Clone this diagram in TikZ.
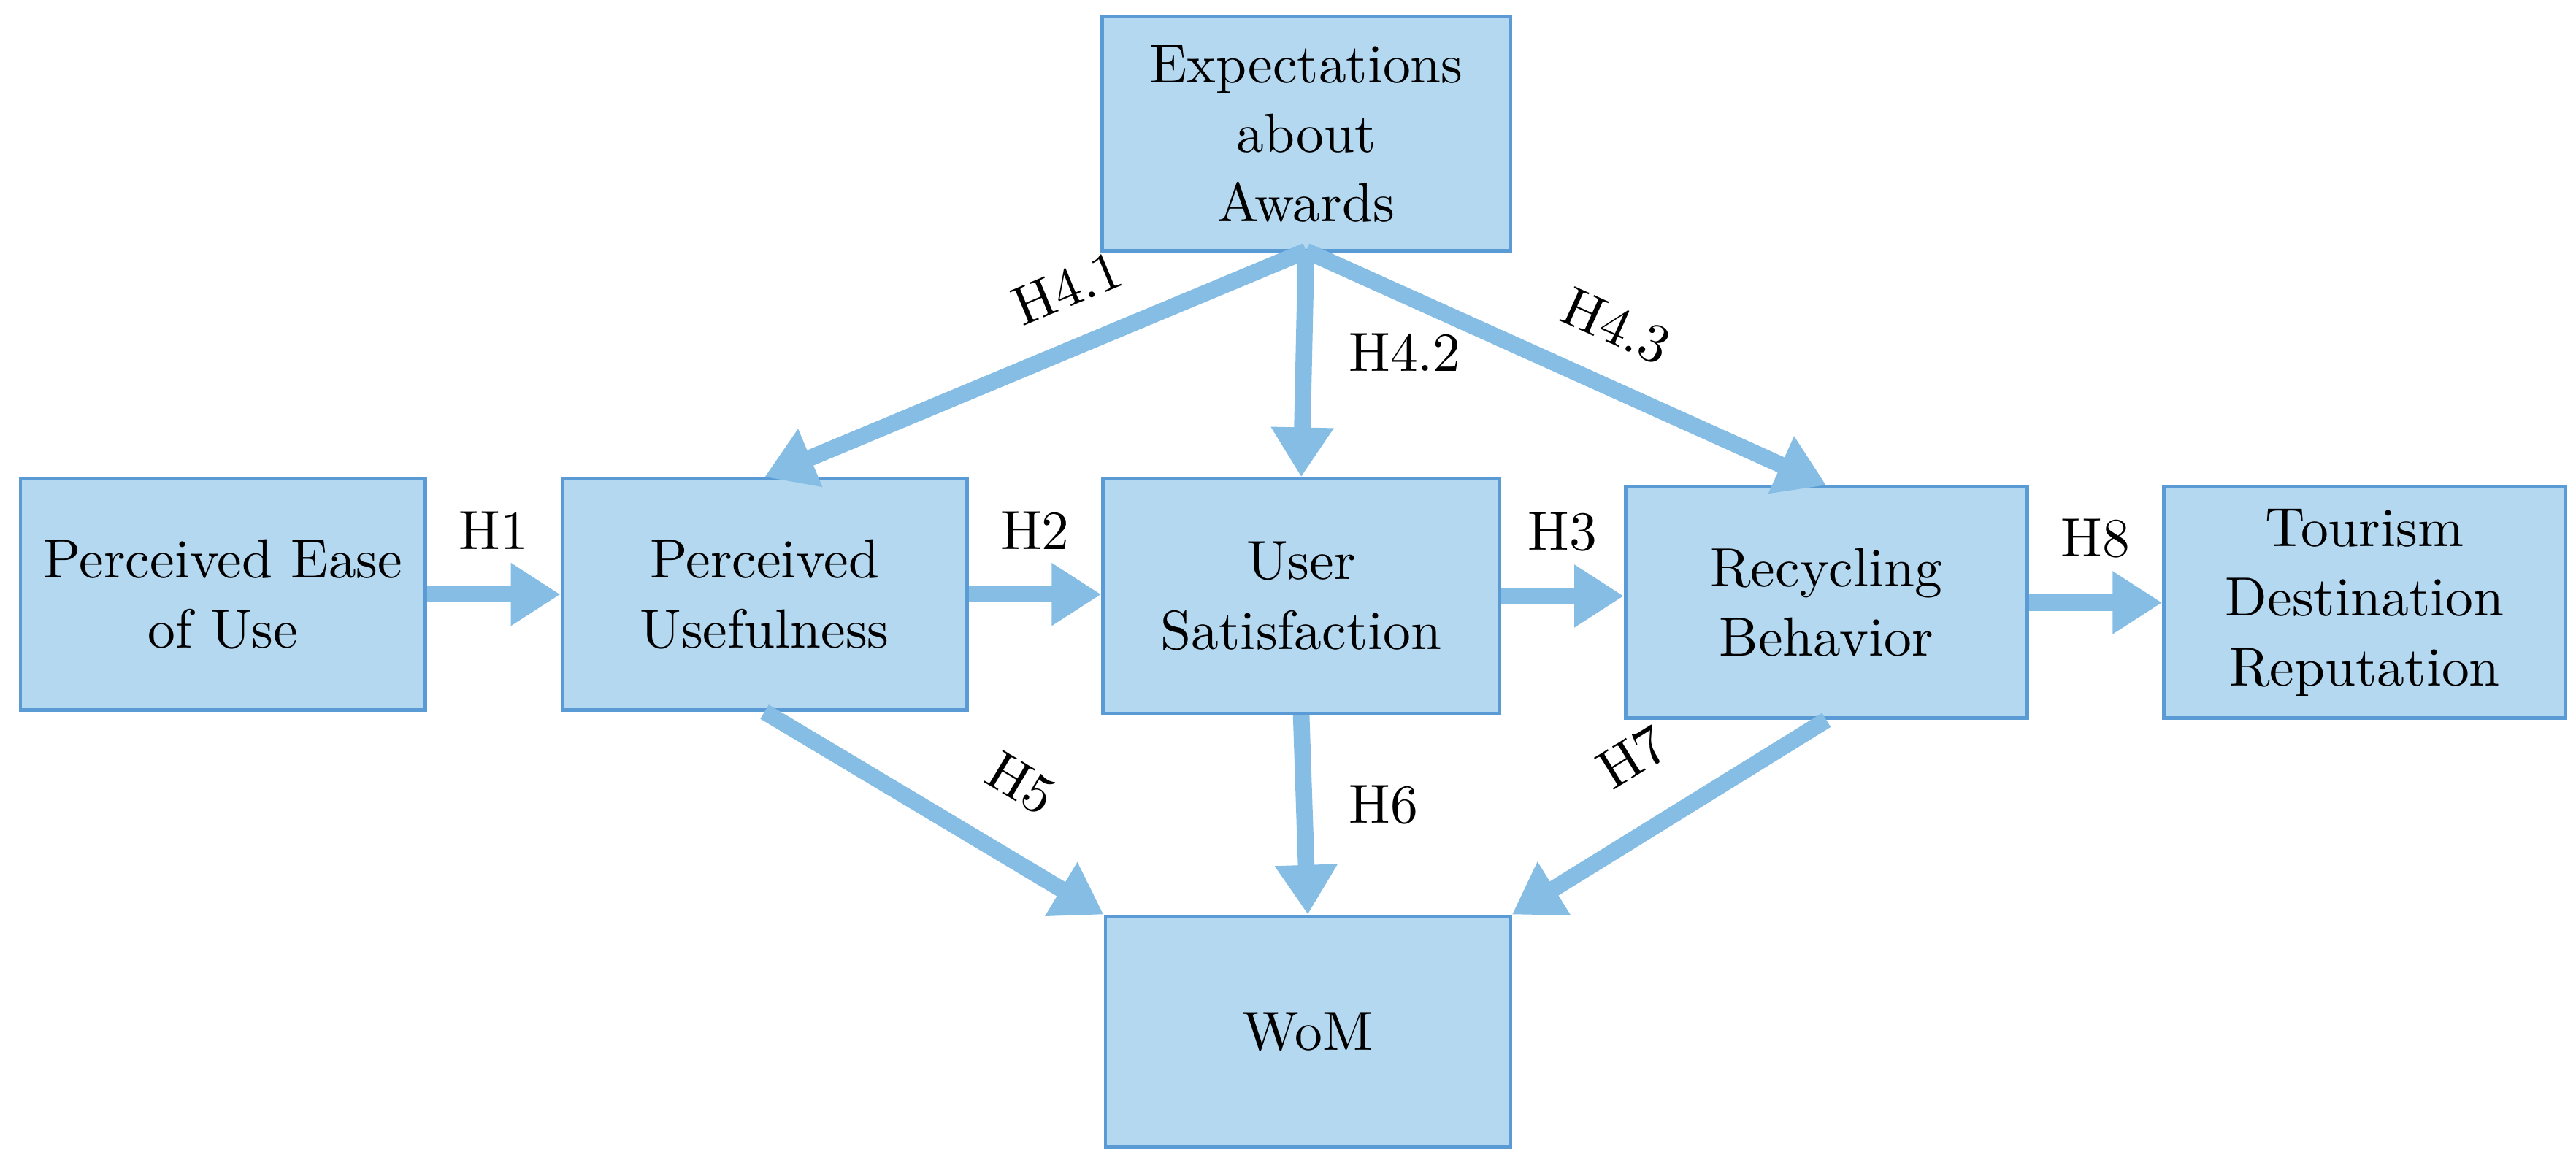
\documentclass[tikz,border=0pt]{standalone}
\usetikzlibrary{arrows.meta}
\definecolor{boxfill}{HTML}{B4D8F0}
\definecolor{boxline}{HTML}{5B9BD5}
\definecolor{arr}{HTML}{85BDE5}
\begin{document}
\begin{tikzpicture}[x=0.01cm,y=-0.01cm,
  box/.style={draw=boxline,line width=0.6pt,fill=boxfill,minimum width=2.45cm,minimum height=1.4cm,align=center,inner sep=0pt,font=\fontsize{9.5}{12}\selectfont},
  ar/.style={draw=arr,line width=0.1cm,-{Triangle[length=0.3cm,width=0.36cm]},shorten >=0pt},
  lb/.style={font=\fontsize{9.5}{12}\selectfont}]
\useasboundingbox (0,0) rectangle (1560,709);
\node[box] (peou) at (135,360) {Perceived Ease\\of Use};
\node[box] (pu) at (463,360) {Perceived\\Usefulness};
\node[box,minimum width=2.4cm,minimum height=1.42cm] (us) at (788,361) {User\\Satisfaction};
\node[box,minimum width=2.43cm] (rb) at (1106,365) {Recycling\\Behavior};
\node[box,minimum width=2.43cm] (tdr) at (1432,365) {Tourism\\Destination\\Reputation};
\node[box,minimum width=2.47cm,minimum height=1.42cm] (ea) at (791,81) {Expectations\\about\\Awards};
\node[box] (wom) at (792,625) {WoM};
\draw[ar] (peou.east) -- (pu.west |- peou.east) node[lb,midway,above=3pt] {H1};
\draw[ar] (pu.east) -- (us.west |- pu.east) node[lb,midway,above=3pt] {H2};
\draw[ar] (us.east) -- (rb.west |- us.east) node[lb,midway,above=3pt] {H3};
\draw[ar] (rb.east) -- (tdr.west) node[lb,midway,above=3pt] {H8};
\coordinate (eab) at (791,152);
\draw[ar] (eab) -- (pu.north) node[lb,pos=0.4,above=2pt,sloped] {H4.1};
\draw[ar] (eab) -- (us.north) node[lb,pos=0.45,right=3pt] {H4.2};
\draw[ar] (eab) -- (rb.north) node[lb,pos=0.55,above=2pt,sloped] {H4.3};
\draw[ar] (pu.south) -- (wom.north west) node[lb,pos=0.65,above=4pt,sloped] {H5};
\draw[ar] (us.south) -- (wom.north) node[lb,pos=0.45,right=3pt] {H6};
\draw[ar] (rb.south) -- (wom.north east) node[lb,pos=0.5,above=4pt,sloped] {H7};
\end{tikzpicture}
\end{document}
